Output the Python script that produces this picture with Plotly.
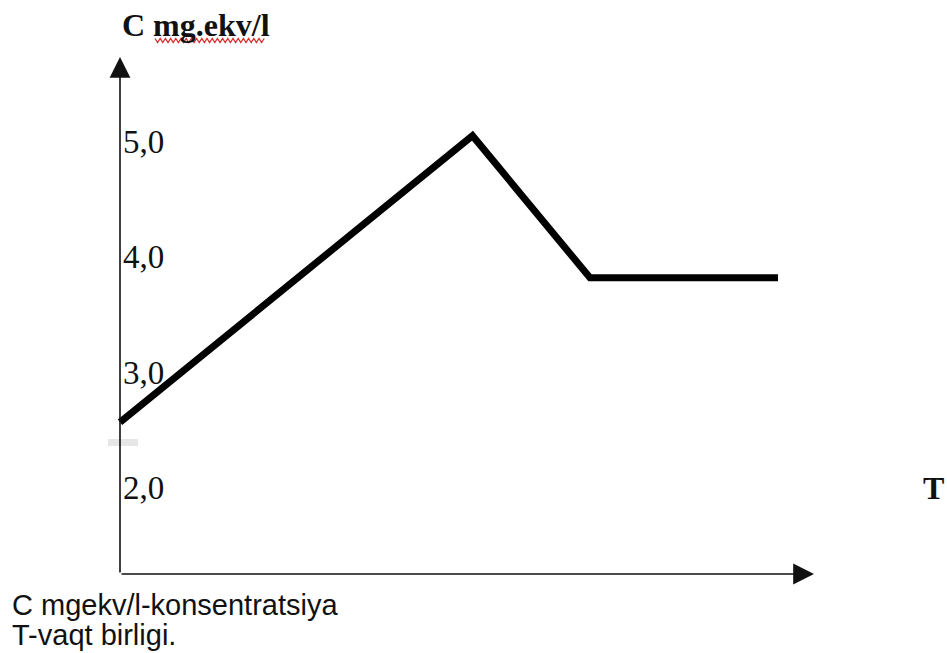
import plotly.graph_objects as go

# ---- data ----
T_values = [0.0, 3.0, 4.0, 5.6]          # time units
C_values = [2.57, 5.05, 3.82, 3.82]      # concentration, mg.ekv/l
tick_values = [2.0, 3.0, 4.0, 5.0]
tick_labels = ["2,0", "3,0", "4,0", "5,0"]
y_title = "C mg.ekv/l"
x_title = "T"
caption_lines = ["C mgekv/l-konsentratsiya", "T-vaqt birligi."]

# ---- layout geometry (pixels of the 947x653 canvas) ----
W, H = 947, 653
X0_PX, PX_PER_T = 120.0, 117.5      # pixel of T=0, pixels per time unit
Y5_PX, PX_PER_C = 141.5, 115.5      # pixel of C=5, pixels per unit C

def px2x(px):
    return (px - X0_PX) / PX_PER_T

def px2y(py):
    return 5.0 + (Y5_PX - py) / PX_PER_C

x_range = [px2x(0), px2x(W)]
y_range = [px2y(H), px2y(0)]

AXIS_Y_PX = 574      # horizontal axis position
Y_ARROW_TOP = 57
X_ARROW_END = 814

serif = "Liberation Serif, Times New Roman, serif"
sans = "Liberation Sans, Arial, sans-serif"

fig = go.Figure()
fig.add_trace(go.Scatter(
    x=T_values, y=C_values, mode="lines",
    line=dict(color="black", width=7),
    hoverinfo="skip", showlegend=False,
))

annotations = []
# vertical axis with arrow
annotations.append(dict(
    x=0, y=px2y(Y_ARROW_TOP), ax=0, ay=px2y(AXIS_Y_PX),
    xref="x", yref="y", axref="x", ayref="y",
    text="", showarrow=True, arrowhead=2, arrowsize=2.6, arrowwidth=1.6,
    arrowcolor="#111111",
))
# horizontal axis with arrow
annotations.append(dict(
    x=px2x(X_ARROW_END), y=px2y(AXIS_Y_PX), ax=0, ay=px2y(AXIS_Y_PX),
    xref="x", yref="y", axref="x", ayref="y",
    text="", showarrow=True, arrowhead=2, arrowsize=2.6, arrowwidth=1.6,
    arrowcolor="#111111",
))
# tick labels
for v, lab in zip(tick_values, tick_labels):
    annotations.append(dict(
        x=0, y=v, xref="x", yref="y", xanchor="left", yanchor="middle",
        xshift=1, text=lab, showarrow=False,
        font=dict(family=serif, size=33, color="#111111"),
    ))
# axis titles
annotations.append(dict(
    x=px2x(120), y=px2y(25), xref="x", yref="y", xanchor="left", yanchor="middle",
    text="<b>" + y_title + "</b>", showarrow=False,
    font=dict(family=serif, size=32, color="#111111"),
))
annotations.append(dict(
    x=px2x(946), y=px2y(488), xref="x", yref="y", xanchor="right", yanchor="middle",
    text="<b>" + x_title + "</b>", showarrow=False,
    font=dict(family=serif, size=32, color="#111111"),
))
# caption
for i, line in enumerate(caption_lines):
    annotations.append(dict(
        x=px2x(10), y=px2y(605 + 30 * i), xref="x", yref="y",
        xanchor="left", yanchor="middle",
        text=line, showarrow=False,
        font=dict(family=sans, size=29, color="#111111"),
    ))

shapes = []
# small gap + light grey dash on the vertical axis
shapes.append(dict(type="rect", xref="x", yref="y",
                   x0=px2x(117), x1=px2x(123), y0=px2y(439), y1=px2y(427),
                   fillcolor="white", line=dict(width=0), layer="above"))
shapes.append(dict(type="rect", xref="x", yref="y",
                   x0=px2x(108), x1=px2x(138), y0=px2y(446), y1=px2y(439),
                   fillcolor="#e6e6e6", line=dict(width=0), layer="above"))
# red spell-check squiggle under "mg.ekv"
pts = []
px = 155.0
k = 0
while px <= 265:
    pts.append((px, 38.5 if k % 2 == 0 else 42.5))
    px += 2.6
    k += 1
path = "M " + " L ".join(f"{px2x(a):.5f},{px2y(b):.5f}" for a, b in pts)
shapes.append(dict(type="path", xref="x", yref="y", path=path,
                   line=dict(color="#d83030", width=1.3), layer="above"))

fig.update_layout(
    width=W, height=H,
    margin=dict(l=0, r=0, t=0, b=0),
    paper_bgcolor="white", plot_bgcolor="white",
    xaxis=dict(visible=False, range=x_range, fixedrange=True),
    yaxis=dict(visible=False, range=y_range, fixedrange=True),
    annotations=annotations, shapes=shapes,
    showlegend=False,
)

fig.write_html(
    "out.html",
    config={"displayModeBar": False},
    post_script="document.body.style.margin='0';"
                "document.documentElement.style.overflow='hidden';",
)
